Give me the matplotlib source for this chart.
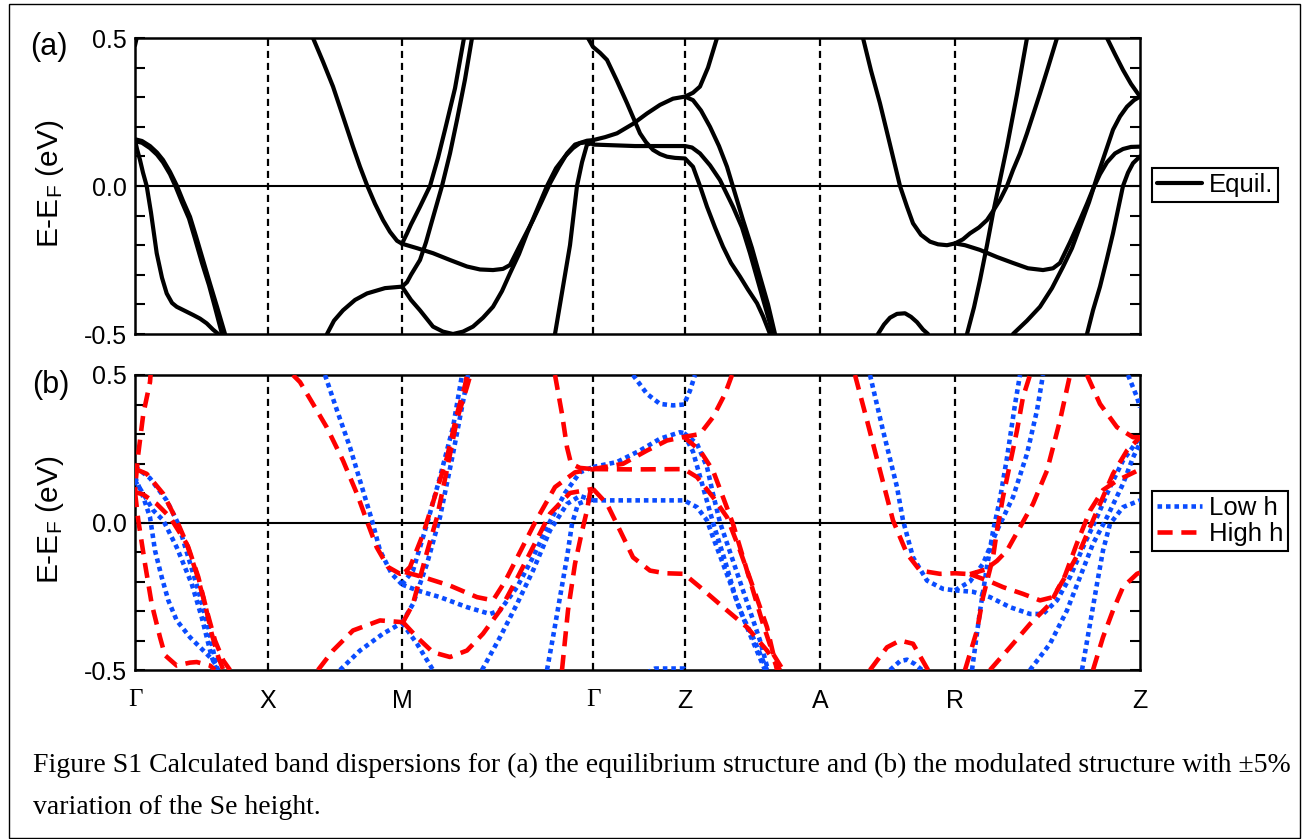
import matplotlib
matplotlib.use("Agg")
import matplotlib.pyplot as plt
from matplotlib.ticker import MultipleLocator
from matplotlib.patches import Rectangle

plt.rcParams['font.family'] = ['Liberation Sans', 'DejaVu Sans']
plt.rcParams['mathtext.default'] = 'regular'

# ---- high-symmetry path ----
k_sym = [0.0, 1.33, 2.67, 4.58, 5.50, 6.85, 8.20, 10.05]
k_labels = ['Γ', 'X', 'M', 'Γ', 'Z', 'A', 'R', 'Z']

# ---- panel (a): equilibrium bands (k, E) ----
eq_b1 = [(0, 0.158), (0.07, 0.152), (0.15, 0.135), (0.22, 0.113), (0.28, 0.088), (0.35, 0.048), (0.42, 0.0), (0.48, -0.05), (0.55, -0.104), (0.61, -0.17), (0.68, -0.25), (0.75, -0.33), (0.82, -0.408), (0.9, -0.5)]
eq_b2 = [(0, 0.152), (0.07, 0.146), (0.15, 0.128), (0.22, 0.106), (0.28, 0.08), (0.35, 0.04), (0.41, -0.005), (0.47, -0.055), (0.54, -0.11), (0.6, -0.178), (0.67, -0.26), (0.74, -0.335), (0.8, -0.41), (0.87, -0.5)]
eq_b3 = [(0, 0.155), (0.02, 0.125), (0.05, 0.088), (0.08, 0.045), (0.117, 0.0), (0.16, -0.09), (0.217, -0.227), (0.27, -0.31), (0.317, -0.363), (0.37, -0.395), (0.417, -0.408), (0.5, -0.422), (0.583, -0.436), (0.65, -0.448), (0.717, -0.464), (0.78, -0.485), (0.833, -0.5)]
eq_b4 = [(0, 0.475), (0.01, 0.49), (0.02, 0.505)]
eq_b5 = [(1.78, 0.5), (1.88, 0.42), (1.98, 0.336), (2.08, 0.235), (2.18, 0.133), (2.25, 0.065), (2.32, 0.003), (2.4, -0.06), (2.48, -0.115), (2.55, -0.155), (2.62, -0.185), (2.67, -0.195)]
eq_b6 = [(2.67, -0.195), (2.72, -0.16), (2.76, -0.13), (2.85, -0.07), (2.95, 0.0), (3.03, 0.095), (3.1, 0.19), (3.2, 0.33), (3.29, 0.5)]
eq_b7 = [(2.67, -0.34), (2.72, -0.325), (2.76, -0.3), (2.85, -0.25), (2.91, -0.19), (2.96, -0.13), (3.07, 0.0), (3.15, 0.11), (3.22, 0.223), (3.3, 0.36), (3.37, 0.5)]
eq_b8 = [(2.67, -0.195), (2.82, -0.21), (2.98, -0.227), (3.15, -0.25), (3.32, -0.272), (3.45, -0.282), (3.58, -0.284), (3.68, -0.28), (3.75, -0.267), (3.85, -0.2), (3.98, -0.115), (4.07, -0.05), (4.15, 0.009), (4.24, 0.065), (4.32, 0.11), (4.4, 0.14), (4.52, 0.153), (4.58, 0.155)]
eq_b9 = [(2.67, -0.34), (2.76, -0.385), (2.85, -0.42), (2.98, -0.475), (3.08, -0.492), (3.18, -0.5), (3.28, -0.492), (3.38, -0.475), (3.48, -0.445), (3.58, -0.408), (3.67, -0.355), (3.75, -0.295), (3.84, -0.23), (3.92, -0.16), (4.02, -0.08), (4.12, 0.0), (4.21, 0.06), (4.3, 0.1), (4.38, 0.128), (4.45, 0.145), (4.52, 0.148), (4.58, 0.15)]
eq_b10 = [(1.92, -0.5), (1.99, -0.455), (2.08, -0.42), (2.2, -0.385), (2.32, -0.363), (2.5, -0.345), (2.67, -0.34)]
eq_b11 = [(4.2, -0.5), (4.28, -0.34), (4.35, -0.2), (4.42, 0.0), (4.47, 0.08), (4.52, 0.14), (4.58, 0.145)]
eq_b12 = [(4.58, 0.14), (5.0, 0.135), (5.5, 0.135), (5.57, 0.13), (5.65, 0.11), (5.75, 0.07), (5.85, 0.02), (5.98, -0.07), (6.07, -0.14), (6.15, -0.227), (6.27, -0.37), (6.38, -0.5)]
eq_b13 = [(4.58, 0.155), (4.7, 0.165), (4.82, 0.178), (4.98, 0.21), (5.12, 0.245), (5.25, 0.274), (5.38, 0.295), (5.5, 0.302), (5.58, 0.315), (5.65, 0.336), (5.73, 0.4), (5.82, 0.5)]
eq_b14 = [(5.5, 0.302), (5.58, 0.29), (5.66, 0.255), (5.75, 0.2), (5.84, 0.135), (5.92, 0.065), (6.0, -0.025), (6.08, -0.115), (6.17, -0.21), (6.25, -0.306), (6.33, -0.4), (6.4, -0.5)]
eq_b15 = [(4.53, 0.5), (4.58, 0.47), (4.65, 0.45), (4.72, 0.426), (4.82, 0.355), (4.92, 0.28), (5.05, 0.178), (5.11, 0.148), (5.18, 0.122), (5.25, 0.108), (5.32, 0.099), (5.4, 0.095), (5.5, 0.093), (5.58, 0.065), (5.65, 0.0), (5.72, -0.07), (5.8, -0.14), (5.88, -0.205), (5.96, -0.26), (6.05, -0.306), (6.13, -0.35), (6.22, -0.396), (6.28, -0.44), (6.35, -0.5)]
eq_b16 = [(7.28, 0.5), (7.36, 0.39), (7.45, 0.279), (7.55, 0.14), (7.65, 0.0), (7.72, -0.07), (7.78, -0.126), (7.86, -0.165), (7.95, -0.188), (8.03, -0.197), (8.12, -0.2), (8.2, -0.194)]
eq_b17 = [(8.2, -0.194), (8.28, -0.18), (8.35, -0.16), (8.44, -0.14), (8.52, -0.115), (8.58, -0.085), (8.65, -0.047), (8.72, 0.0), (8.78, 0.054), (8.85, 0.11), (8.92, 0.178), (8.98, 0.24), (9.05, 0.313), (9.13, 0.4), (9.22, 0.5)]
eq_b18 = [(8.2, -0.194), (8.3, -0.2), (8.45, -0.216), (8.62, -0.24), (8.78, -0.26), (8.93, -0.278), (9.08, -0.284), (9.18, -0.278), (9.25, -0.26), (9.35, -0.19), (9.45, -0.115), (9.52, -0.06), (9.58, -0.01), (9.65, 0.04), (9.72, 0.08), (9.8, 0.11), (9.88, 0.125), (9.96, 0.132), (10.05, 0.133)]
eq_b19 = [(8.78, -0.5), (8.92, -0.455), (9.05, -0.408), (9.17, -0.345), (9.28, -0.273), (9.37, -0.21), (9.45, -0.137), (9.54, -0.055), (9.62, 0.03), (9.7, 0.11), (9.78, 0.19), (9.85, 0.235), (9.92, 0.268), (9.99, 0.29), (10.05, 0.302)]
eq_b20 = [(9.52, -0.5), (9.58, -0.42), (9.65, -0.34), (9.72, -0.245), (9.78, -0.16), (9.83, -0.08), (9.88, 0.0), (9.93, 0.045), (9.98, 0.077), (10.05, 0.1)]
eq_b21 = [(9.72, 0.5), (9.8, 0.445), (9.88, 0.392), (9.96, 0.345), (10.05, 0.302)]
eq_b22 = [(8.32, -0.5), (8.39, -0.41), (8.45, -0.318), (8.52, -0.2), (8.58, -0.092), (8.65, 0.02), (8.72, 0.133), (8.82, 0.31), (8.92, 0.5)]
eq_b23 = [(7.43, -0.5), (7.49, -0.468), (7.55, -0.445), (7.62, -0.432), (7.7, -0.43), (7.76, -0.442), (7.82, -0.46), (7.88, -0.485), (7.93, -0.5)]

# ---- panel (b): low h (blue) ----
lo_b1 = [(0, 0.154), (0.083, 0.086), (0.15, 0.018), (0.2, -0.095), (0.267, -0.185), (0.333, -0.264), (0.417, -0.332), (0.55, -0.389), (0.683, -0.434), (0.783, -0.468), (0.833, -0.5)]
lo_b2 = [(0, 0.142), (0.083, 0.097), (0.183, 0.041), (0.283, 0.007), (0.417, -0.084), (0.567, -0.208), (0.667, -0.321), (0.767, -0.456), (0.817, -0.5)]
lo_b3 = [(0, 0.19), (0.15, 0.15), (0.317, 0.075), (0.433, -0.005), (0.533, -0.118), (0.633, -0.23), (0.733, -0.355), (0.823, -0.5)]
lo_b4 = [(1.9, 0.5), (2.02, 0.38), (2.15, 0.255), (2.28, 0.108), (2.37, 0.007), (2.45, -0.095), (2.567, -0.174), (2.67, -0.21)]
lo_b5 = [(2.67, -0.21), (2.82, -0.23), (3.05, -0.253), (3.32, -0.287), (3.55, -0.31), (3.65, -0.298), (3.82, -0.219), (3.98, -0.118), (4.12, -0.016), (4.3, 0.1), (4.45, 0.17), (4.58, 0.188)]
lo_b6 = [(2.05, -0.5), (2.25, -0.434), (2.48, -0.377), (2.67, -0.34)]
lo_b7 = [(2.67, -0.34), (2.82, -0.411), (2.98, -0.5)]
lo_b8 = [(3.47, -0.5), (3.65, -0.389), (3.82, -0.276), (3.98, -0.163), (4.15, -0.027), (4.32, 0.063), (4.45, 0.09), (4.58, 0.075)]
lo_b9 = [(2.67, -0.21), (2.78, -0.163), (2.92, -0.005), (3.05, 0.154), (3.18, 0.323), (3.27, 0.5)]
lo_b10 = [(2.67, -0.34), (2.78, -0.276), (2.92, -0.14), (3.05, 0.018), (3.18, 0.233), (3.32, 0.48), (3.33, 0.5)]
lo_b11 = [(4.12, -0.5), (4.18, -0.389), (4.25, -0.253), (4.32, -0.118), (4.37, -0.005), (4.43, 0.063), (4.52, 0.075), (4.58, 0.075)]
lo_b12 = [(4.58, 0.075), (5.0, 0.075), (5.49, 0.075), (5.62, 0.052), (5.72, 0.007), (5.78, -0.05), (5.88, -0.14), (5.98, -0.23), (6.08, -0.321), (6.18, -0.389), (6.32, -0.5)]
lo_b13 = [(4.58, 0.188), (4.82, 0.205), (5.05, 0.244), (5.25, 0.284), (5.45, 0.306), (5.49, 0.303)]
lo_b14 = [(5.49, 0.303), (5.62, 0.267), (5.72, 0.188), (5.78, 0.097), (5.85, 0.0), (5.95, -0.1), (6.05, -0.2), (6.15, -0.3), (6.25, -0.4), (6.33, -0.5)]
lo_b15 = [(5.49, 0.3), (5.58, 0.24), (5.68, 0.12), (5.78, 0.0), (5.9, -0.13), (6.02, -0.27), (6.15, -0.38), (6.3, -0.5)]
lo_b16 = [(4.98, 0.5), (5.12, 0.436), (5.25, 0.402), (5.38, 0.397), (5.49, 0.4), (5.55, 0.447), (5.6, 0.5)]
lo_b17 = [(5.12, -0.51), (5.2, -0.495), (5.49, -0.495), (5.52, -0.51)]
lo_b18 = [(7.35, 0.5), (7.48, 0.312), (7.62, 0.12), (7.68, 0.007), (7.78, -0.118), (7.92, -0.197), (8.08, -0.225), (8.2, -0.23)]
lo_b19 = [(8.2, -0.23), (8.38, -0.235), (8.55, -0.253), (8.75, -0.287), (8.95, -0.31), (9.08, -0.31), (9.22, -0.264), (9.35, -0.185), (9.48, -0.084), (9.62, 0.018), (9.75, 0.12), (9.88, 0.21), (10.05, 0.289)]
lo_b20 = [(8.37, -0.5), (8.45, -0.3), (8.52, -0.15), (8.58, -0.03), (8.65, 0.08), (8.72, 0.22), (8.8, 0.4), (8.85, 0.5)]
lo_b21 = [(8.2, -0.23), (8.35, -0.2), (8.48, -0.14), (8.62, -0.027), (8.78, 0.086), (8.92, 0.233), (9.02, 0.38), (9.08, 0.5)]
lo_b22 = [(8.95, -0.5), (9.15, -0.411), (9.32, -0.298), (9.45, -0.185), (9.58, -0.072), (9.72, 0.018), (9.88, 0.131), (9.98, 0.22), (10.05, 0.27)]
lo_b23 = [(9.47, -0.5), (9.55, -0.344), (9.62, -0.208), (9.68, -0.095), (9.75, -0.005), (9.88, 0.052), (10.05, 0.075)]
lo_b24 = [(9.93, 0.5), (10.02, 0.425), (10.05, 0.39)]
lo_b25 = [(7.55, -0.5), (7.65, -0.47), (7.72, -0.465), (7.8, -0.48), (7.87, -0.5)]

# ---- panel (b): high h (red) ----
hi_b1 = [(0.16, 0.52), (0.15, 0.476), (0.083, 0.368), (0.033, 0.233), (0.01, 0.15), (0, 0.103)]
hi_b2 = [(0, 0.103), (0.033, 0.007), (0.1, -0.14), (0.167, -0.276), (0.25, -0.389), (0.3, -0.45), (0.417, -0.485), (0.55, -0.475), (0.617, -0.473), (0.75, -0.485), (0.8, -0.5)]
hi_b3 = [(0, 0.182), (0.117, 0.165), (0.283, 0.097), (0.417, 0.007), (0.533, -0.084), (0.633, -0.185), (0.717, -0.298), (0.8, -0.4), (0.883, -0.468), (0.95, -0.5)]
hi_b4 = [(0, 0.103), (0.083, 0.095), (0.217, 0.063), (0.35, 0.018), (0.517, -0.072), (0.617, -0.174), (0.7, -0.276), (0.767, -0.377), (0.833, -0.456), (0.883, -0.5)]
hi_b5 = [(1.58, 0.5), (1.65, 0.476), (1.78, 0.402), (1.917, 0.323), (2.08, 0.21), (2.22, 0.097), (2.317, 0.007), (2.417, -0.084), (2.53, -0.151), (2.65, -0.174), (2.7, -0.168)]
hi_b6 = [(2.7, -0.168), (2.88, -0.185), (3.15, -0.214), (3.42, -0.253), (3.58, -0.264), (3.7, -0.2), (3.85, -0.1), (4.0, 0.0), (4.2, 0.12), (4.4, 0.17), (4.58, 0.181)]
hi_b7 = [(1.83, -0.5), (1.98, -0.434), (2.18, -0.366), (2.45, -0.332), (2.68, -0.338)]
hi_b8 = [(2.68, -0.338), (2.82, -0.389), (2.98, -0.44), (3.15, -0.456), (3.32, -0.434), (3.48, -0.377), (3.65, -0.298), (3.82, -0.19), (4.0, -0.07), (4.15, 0.03), (4.35, 0.1), (4.58, 0.114)]
hi_b9 = [(2.7, -0.168), (2.75, -0.151), (2.88, -0.04), (3.0, 0.09), (3.12, 0.221), (3.22, 0.368), (3.3, 0.465), (3.32, 0.5)]
hi_b10 = [(2.68, -0.338), (2.78, -0.276), (2.92, -0.1), (3.02, 0.018), (3.12, 0.18), (3.22, 0.35), (3.32, 0.46), (3.37, 0.52)]
hi_b11 = [(4.27, -0.5), (4.33, -0.298), (4.4, -0.14), (4.47, -0.03), (4.52, 0.041), (4.55, 0.1), (4.58, 0.114)]
hi_b12 = [(4.2, 0.5), (4.27, 0.368), (4.32, 0.255), (4.36, 0.2), (4.45, 0.185), (4.58, 0.181)]
hi_b13 = [(4.58, 0.114), (4.72, 0.063), (4.85, -0.027), (4.98, -0.118), (5.15, -0.163), (5.3, -0.172), (5.49, -0.174), (5.65, -0.219), (5.92, -0.298), (6.12, -0.355), (6.32, -0.434), (6.45, -0.5)]
hi_b14 = [(4.58, 0.181), (5.0, 0.18), (5.49, 0.181), (5.62, 0.154), (5.78, 0.086), (5.92, 0.018), (6.05, -0.095), (6.18, -0.219), (6.32, -0.355), (6.42, -0.5)]
hi_b15 = [(4.58, 0.181), (4.88, 0.199), (5.12, 0.244), (5.32, 0.278), (5.49, 0.29), (5.65, 0.3), (5.78, 0.357), (5.9, 0.436), (5.97, 0.5)]
hi_b16 = [(5.49, 0.29), (5.65, 0.244), (5.78, 0.176), (5.88, 0.086), (5.98, -0.005), (6.08, -0.118), (6.18, -0.23), (6.28, -0.344), (6.38, -0.445), (6.48, -0.5)]
hi_b17 = [(7.2, 0.5), (7.32, 0.346), (7.45, 0.176), (7.58, 0.007), (7.72, -0.106), (7.85, -0.163), (8.05, -0.174), (8.2, -0.172), (8.35, -0.175)]
hi_b18 = [(8.35, -0.175), (8.5, -0.16), (8.62, -0.13), (8.72, -0.095), (8.85, -0.016), (8.98, 0.063), (9.12, 0.176), (9.25, 0.346), (9.35, 0.5)]
hi_b19 = [(8.35, -0.175), (8.55, -0.2), (8.68, -0.219), (8.88, -0.242), (9.05, -0.264), (9.18, -0.253), (9.32, -0.174), (9.45, -0.095), (9.55, -0.016), (9.65, 0.063), (9.78, 0.165), (9.92, 0.244), (10.05, 0.289)]
hi_b20 = [(8.3, -0.5), (8.42, -0.366), (8.48, -0.253), (8.58, -0.118), (8.62, -0.027), (8.68, 0.086), (8.75, 0.199), (8.82, 0.312), (8.88, 0.425), (8.95, 0.5)]
hi_b21 = [(8.55, -0.5), (8.75, -0.423), (8.95, -0.344), (9.15, -0.276), (9.3, -0.18), (9.42, -0.07), (9.55, 0.04), (9.68, 0.11), (9.82, 0.142), (10.05, 0.18)]
hi_b22 = [(9.52, 0.5), (9.65, 0.402), (9.82, 0.323), (9.98, 0.289), (10.05, 0.289)]
hi_b23 = [(9.58, -0.5), (9.68, -0.389), (9.78, -0.298), (9.88, -0.219), (10.02, -0.174), (10.05, -0.17)]
hi_b24 = [(7.35, -0.5), (7.52, -0.423), (7.65, -0.4), (7.78, -0.411), (7.93, -0.5)]

eq_bands = [eq_b1, eq_b2, eq_b3, eq_b4, eq_b5, eq_b6, eq_b7, eq_b8, eq_b9, eq_b10, eq_b11, eq_b12,
            eq_b13, eq_b14, eq_b15, eq_b16, eq_b17, eq_b18, eq_b19, eq_b20, eq_b21, eq_b22, eq_b23]
lo_bands = [lo_b1, lo_b2, lo_b3, lo_b4, lo_b5, lo_b6, lo_b7, lo_b8, lo_b9, lo_b10, lo_b11, lo_b12, lo_b13,
            lo_b14, lo_b15, lo_b16, lo_b17, lo_b18, lo_b19, lo_b20, lo_b21, lo_b22, lo_b23, lo_b24, lo_b25]
hi_bands = [hi_b1, hi_b2, hi_b3, hi_b4, hi_b5, hi_b6, hi_b7, hi_b8, hi_b9, hi_b10, hi_b11, hi_b12, hi_b13,
            hi_b14, hi_b15, hi_b16, hi_b17, hi_b18, hi_b19, hi_b20, hi_b21, hi_b22, hi_b23, hi_b24]

W, H = 1303, 839
fig = plt.figure(figsize=(W / 100, H / 100), dpi=100)

def axes_px(left, top, right, bottom):
    return fig.add_axes([left / W, 1 - bottom / H, (right - left) / W, (bottom - top) / H])

ax_a = axes_px(135, 38, 1140, 334)
ax_b = axes_px(135, 375, 1140, 670)

BLUE = '#0a4cff'
RED = '#ff0000'

def style(ax, show_x):
    ax.set_xlim(k_sym[0], k_sym[-1])
    ax.set_ylim(-0.5, 0.5)
    ax.axhline(0, color='k', lw=1.5, zorder=1)
    for kv in k_sym[1:-1]:
        ax.axvline(kv, color='k', lw=1.6, dashes=(3.2, 2.2), zorder=1)
    ax.set_yticks([-0.5, 0.0, 0.5])
    ax.set_yticklabels(['-0.5', '0.0', '0.5'])
    ax.yaxis.set_minor_locator(MultipleLocator(0.1))
    ax.tick_params(axis='y', which='both', direction='in', left=True, right=True,
                   length=7, width=1.5, labelsize=18, pad=6)
    ax.set_xticks(k_sym)
    if show_x:
        ax.set_xticklabels(k_labels)
        for lab in ax.get_xticklabels():
            if lab.get_text() == 'Γ':
                lab.set_family(['Liberation Serif', 'DejaVu Serif'])
    else:
        ax.set_xticklabels([])
    ax.tick_params(axis='x', length=0, labelsize=18, pad=14)
    for s in ax.spines.values():
        s.set_linewidth(1.8)

style(ax_a, False)
style(ax_b, True)

for i, band in enumerate(eq_bands):
    ks, es = zip(*band)
    ax_a.plot(ks, es, color='k', lw=3.0, solid_capstyle='round', solid_joinstyle='round',
              label='Equil.' if i == 0 else None, zorder=3)

for i, band in enumerate(lo_bands):
    ks, es = zip(*band)
    ax_b.plot(ks, es, color=BLUE, lw=3.3, dashes=(1.0, 0.85), dash_capstyle='butt',
              label='Low h' if i == 0 else None, zorder=3)
for i, band in enumerate(hi_bands):
    ks, es = zip(*band)
    ax_b.plot(ks, es, color=RED, lw=3.3, dashes=(3.3, 1.9), dash_capstyle='butt',
              label='High h' if i == 0 else None, zorder=3)

leg_kw = dict(loc='center left', fontsize=18.5, frameon=True, fancybox=False, framealpha=1,
              edgecolor='k', handlelength=1.75, handletextpad=0.25, borderpad=0.2,
              borderaxespad=0, labelspacing=0.05)
la = ax_a.legend(bbox_to_anchor=(1.012, 0.503), **leg_kw)
la.get_frame().set_linewidth(1.5)
lb = ax_b.legend(bbox_to_anchor=(1.012, 0.505), **leg_kw)
lb.get_frame().set_linewidth(1.5)

for yc in (184, 520):
    fig.text(50 / W, 1 - yc / H, 'E-E$_F$ (eV)', rotation=90, ha='center', va='center', fontsize=21.5)
fig.text(49 / W, 1 - 47 / H, '(a)', ha='center', va='center', fontsize=22)
fig.text(51 / W, 1 - 385 / H, '(b)', ha='center', va='center', fontsize=22)

cap_font = ['Liberation Serif', 'DejaVu Serif']
fig.text(33 / W, 1 - 765 / H,
         'Figure S1 Calculated band dispersions for (a) the equilibrium structure and (b) the modulated structure with ±5%',
         ha='left', va='center', fontsize=20, family=cap_font)
fig.text(33 / W, 1 - 808 / H, 'variation of the Se height.', ha='left', va='center', fontsize=20, family=cap_font)

fig.patches.append(Rectangle((9 / W, 1 / H), (1300 - 9) / W, (835 - 1) / H, transform=fig.transFigure,
                             fill=False, edgecolor='k', lw=1.0))

fig.savefig('out.png', dpi=100)
